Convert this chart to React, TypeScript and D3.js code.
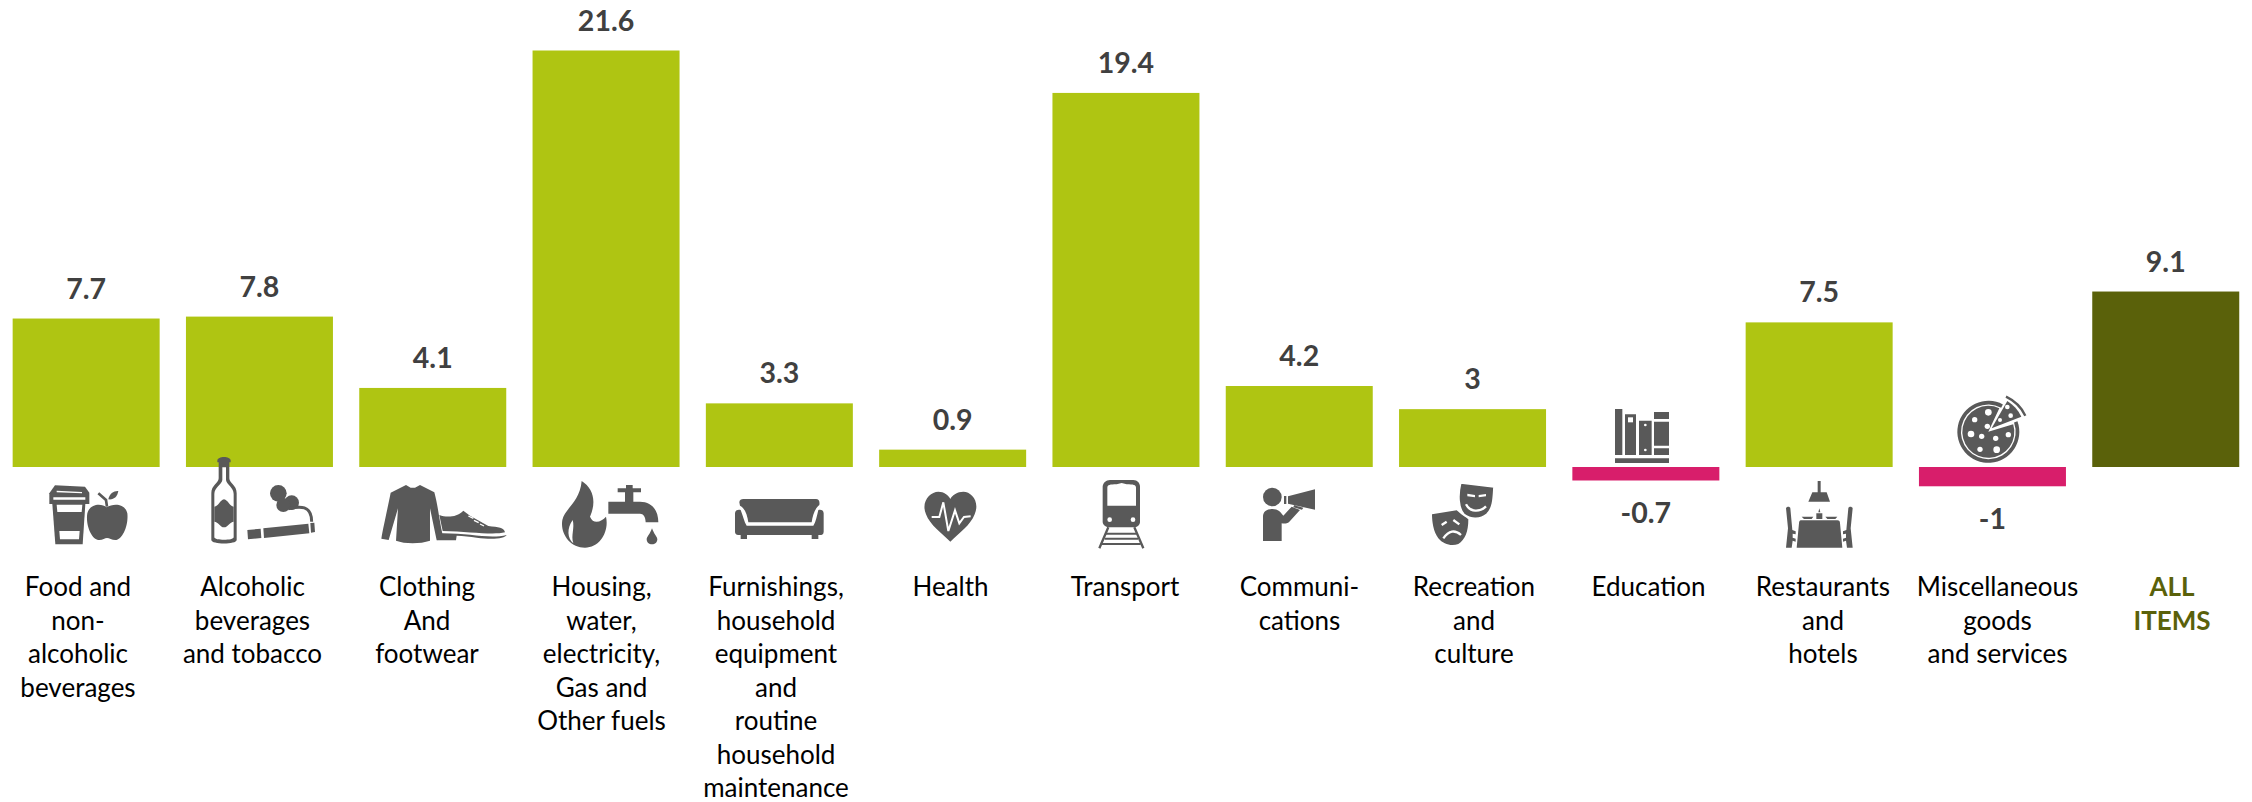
import React from "react";
import * as d3 from "d3";

// Annual inflation by expenditure group
const categoryLines: string[][] = [
  ["Food and", "non-", "alcoholic", "beverages"],
  ["Alcoholic", "beverages", "and tobacco"],
  ["Clothing", "And", "footwear"],
  ["Housing,", "water,", "electricity,", "Gas and", "Other fuels"],
  ["Furnishings,", "household", "equipment", "and", "routine", "household", "maintenance"],
  ["Health"],
  ["Transport"],
  ["Communi-", "cations"],
  ["Recreation", "and", "culture"],
  ["Education"],
  ["Restaurants", "and", "hotels"],
  ["Miscellaneous", "goods", "and services"],
  ["ALL", "ITEMS"],
];
const values: number[] = [7.7, 7.8, 4.1, 21.6, 3.3, 0.9, 19.4, 4.2, 3, -0.7, 7.5, -1, 9.1];

const WIDTH = 2252;
const HEIGHT = 802;
const LIME = "#AFC512";
const OLIVE = "#5A610A";
const PINK = "#D81E6B";
const ICON = "#595959";
const VALUE_TEXT = "#404040";
const FONT = "Lato, 'Noto Sans', sans-serif";

const indices = values.map((_, i) => i);
const x = d3.scaleBand<number>().domain(indices).range([-0.5, 2252.4]).paddingInner(0.1518).paddingOuter(0.0759);
const labelX = d3.scalePoint<number>().domain(indices).range([78, 2172]);
const y = d3.scaleLinear().domain([0, 21.6]).range([467, 50.5]);

const barColor = (i: number) => (i === values.length - 1 ? OLIVE : values[i] < 0 ? PINK : LIME);

const disc = d3.arc<any>();
const deg = (a: number) => (a * Math.PI) / 180;
const pizzaBody = disc({ innerRadius: 0, outerRadius: 78, startAngle: deg(73), endAngle: deg(385) }) as string;
const pizzaRim = disc({ innerRadius: 82, outerRadius: 93, startAngle: deg(70), endAngle: deg(388) }) as string;

const W = "#fff";

// Pictograms are authored on a 3x grid and placed by their own origin.
const Glyph = ({ ox, oy, children }: { ox: number; oy: number; children: React.ReactNode }) => (
  <g transform={`translate(${ox},${oy}) scale(${1 / 3})`} fill={ICON}>
    {children}
  </g>
);

const Chair = () => (
  <path d="M558 340C560 334 570 334 571 340L577 405L587 409V418L578 416V428L587 431V440L578 437L575 458H558L564 400Z" />
);

const Icons = () => (
  <g>
    <Glyph ox={40} oy={450}>
      {/* cup and apple */}
      <path d="M28 162V130L45 106L135 110L148 128V162Z" />
      <path d="M37 162L46 283H128L136 162Z" />
      <path d="M40 142H136V149H40ZM50 122L126 126V130L50 127Z" fill={W} />
      <path d="M50 164H127L125 186H52ZM58 243H119L117 268H60Z" fill={W} />
      <path d="M200 172C185 160 150 160 142 190C136 225 155 270 178 270C188 270 195 264 201 264C208 264 215 270 226 270C248 270 266 225 262 190C255 160 220 160 200 172Z" />
      <path d="M175 130L198 150L201 170" fill="none" stroke={ICON} strokeWidth={8} />
      <path d="M205 148C208 130 222 122 235 123C232 140 222 150 205 148Z" />
      {/* bottle and cigarette */}
      <path d="M532 32C532 17 572 17 572 32V37H532Z" />
      <path d="M536 34H568V85C568 100 590 105 590 130V270C590 284 514 284 514 270V130C514 105 536 100 536 85Z" />
      <path d="M547 52H558V90C560 105 581 112 581 132V262C581 272 523 272 523 262V132C523 112 545 105 547 90Z" fill={W} />
      <path d="M523 170C535 170 540 150 552 148C564 150 570 170 581 170V215C570 215 564 232 552 232C540 232 535 215 523 215Z" />
      <path d="M622 240L662 236L664 264L624 268ZM670 235L805 221L808 250L672 264ZM811 219L823 218L825 246L813 248Z" />
      <circle cx={715} cy={130} r={25} />
      <circle cx={755} cy={158} r={22} />
      <circle cx={730} cy={165} r={21} />
      <path d="M745 176C780 168 815 165 815 215" fill="none" stroke={ICON} strokeWidth={9} />
      {/* jumper and shoe */}
      <path d="M1098 105L1112 113H1125L1140 105L1183 127C1195 170 1200 230 1212 268L1190 271L1170 175V272C1140 282 1095 282 1068 272L1074 175L1046 270L1024 266C1030 230 1045 165 1052 128Z" />
      <path d="M1198 195C1220 203 1250 202 1270 182L1290 197L1345 228C1375 232 1393 232 1395 247C1360 256 1290 245 1208 243Z" />
      <path d="M1210 250C1290 250 1350 268 1400 255C1395 265 1360 270 1310 263C1290 260 1270 257 1250 257L1248 271H1192L1188 250Z" />
      <path d="M1285 198L1300 205M1302 211L1316 218M1320 222L1332 228" stroke={W} strokeWidth={4} fill="none" />
    </Glyph>
    <Glyph ox={550} oy={475}>
      {/* flame and tap */}
      <path d="M95 18C130 40 140 80 120 125C130 150 155 140 168 125C178 170 150 218 105 218C60 218 30 175 37 135C45 100 90 80 95 18Z" />
      <path d="M68 135C50 160 52 190 70 205C62 180 75 160 68 135Z" fill={W} />
      <path d="M175 80H225V52H203V40H228V30H248V40H273V52H250V80H270C305 80 325 105 325 142H287C287 125 280 116 270 116H175Z" />
      <path d="M306 160C312 178 322 185 322 193C322 202 315 208 306 208C297 208 290 202 290 193C290 185 300 178 306 160Z" />
      {/* sofa */}
      <path d="M568 82C568 74 574 72 580 72H798C806 72 810 78 808 90C795 100 788 120 785 142H595C592 120 585 100 570 92Z" />
      <path d="M555 115C555 105 565 103 572 105C580 125 582 140 590 152H790C798 140 800 125 805 105C812 103 821 105 821 115V170C821 178 815 180 810 180H805V192H785V180H591V192H572V180H565C558 180 555 175 555 170Z" />
      {/* heart */}
      <path d="M1201 200C1175 175 1140 150 1128 118C1112 80 1140 50 1165 50C1182 50 1195 60 1201 72C1207 60 1222 50 1240 50C1265 50 1290 80 1274 118C1262 150 1227 175 1201 200Z" />
      <path d="M1145 126H1168L1180 82L1195 168L1215 106L1228 145L1242 126L1262 124" fill="none" stroke={W} strokeWidth={6} />
    </Glyph>
    <Glyph ox={1090} oy={475}>
      {/* train */}
      <path d="M60 15H130C142 15 150 25 150 35V140C150 150 142 157 130 157H60C48 157 38 150 38 140V35C38 25 48 15 60 15Z" />
      <path d="M52 38C52 30 60 28 80 28L95 24L110 28C130 28 138 30 138 38V92H52Z" fill={W} />
      <circle cx={59} cy={134} r={7} fill={W} />
      <circle cx={129} cy={134} r={7} fill={W} />
      <path d="M55 157L28 220M133 157L160 220" stroke={ICON} strokeWidth={7} fill="none" />
      <path d="M48 173H140V179H48ZM44 188H144V194H44ZM36 204H152V210H36Z" />
      {/* megaphone */}
      <circle cx={547} cy={66} r={28} />
      <path d="M519 198V125C519 110 530 102 547 102C565 102 572 112 580 122L605 95L630 105L600 138C595 145 585 147 575 145V198Z" />
      <path d="M594 64L675 43V104L594 86ZM582 63H589V87H582ZM612 91L640 98L636 104L610 97Z" />
      {/* theatre masks */}
      <path d="M1026 118L1100 106C1115 120 1125 125 1135 133C1135 170 1125 195 1105 207C1085 215 1060 208 1045 190C1030 170 1026 140 1026 118Z" />
      <path d="M1055 150L1070 140M1090 135L1108 148M1060 190Q1085 155 1113 180" fill="none" stroke={W} strokeWidth={7} />
      <path d="M1112 24L1212 36C1210 70 1210 100 1190 118C1170 135 1140 132 1122 118C1105 100 1103 60 1112 24Z" stroke={W} strokeWidth={5} />
      <path d="M1132 56L1155 60V67L1132 64ZM1166 60L1188 57V64L1166 67Z" fill={W} />
      <path d="M1128 88C1140 112 1170 112 1188 94" fill="none" stroke={W} strokeWidth={7} />
    </Glyph>
    <Glyph ox={1600} oy={395}>
      {/* books */}
      <path d="M45 42H67V180H45ZM75 58H108V180H75ZM117 77H155V180H117ZM162 51H207V72H162ZM162 80H207V152H162ZM162 160H207V180H162ZM45 190H207V204H45Z" />
      <rect x={84} y={67} width={15} height={15} fill={W} />
      <circle cx={136} cy={90} r={4} fill={W} />
      <circle cx={136} cy={165} r={4} fill={W} />
      {/* restaurant table */}
      <path d="M653 258H662V292H653ZM637 292H680L690 320H625Z" />
      <path d="M602 376H712C718 376 720 380 720 385L727 458H590L597 385C597 380 600 376 602 376Z" />
      <path d="M649 355H667V372H649ZM658 340L661 352H655ZM605 365H640L635 372H612ZM676 365H712L706 372H682Z" />
      <Chair />
      <g transform="translate(1316,0) scale(-1,1)">
        <Chair />
      </g>
      {/* pizza */}
      <g transform="translate(1165,110.5)">
        <path d={pizzaBody} />
        <path d={pizzaRim} />
      </g>
      <path d="M1175 100L1222 18C1240 30 1255 45 1264 65Z" />
      <path d="M1218 5Q1258 24 1276 62" fill="none" stroke={ICON} strokeWidth={7} />
      {[[1165, 52, 10], [1124, 74, 8], [1162, 94, 8], [1113, 117, 10], [1145, 124, 8], [1187, 130, 8], [1225, 119, 8], [1140, 163, 8], [1190, 164, 10], [1222, 36, 7], [1232, 62, 7], [1200, 75, 6]].map(([cx, cy, r]) => (
        <circle key={`${cx}-${cy}`} cx={cx} cy={cy} r={r} fill={W} />
      ))}
    </Glyph>
  </g>
);

export default function App() {
  return (
    <svg
      width={WIDTH}
      height={HEIGHT}
      viewBox={`0 0 ${WIDTH} ${HEIGHT}`}
      style={{ position: "absolute", left: 0, top: 0, background: "#fff" }}
      fontFamily={FONT}
    >
      {values.map((v, i) => (
        <rect
          key={i}
          x={x(i)}
          y={Math.min(y(v), y(0))}
          width={x.bandwidth()}
          height={Math.abs(y(v) - y(0))}
          fill={barColor(i)}
        />
      ))}
      <Icons />
      {values.map((v, i) => (
        <text
          key={i}
          x={x(i)! + x.bandwidth() / 2}
          y={v >= 0 ? y(v) - 20 : y(v) + 43}
          textAnchor="middle"
          fontSize={28.5}
          fontWeight={700}
          fill={VALUE_TEXT}
        >
          {v}
        </text>
      ))}
      {categoryLines.map((lines, i) => (
        <text
          key={i}
          textAnchor="middle"
          fontSize={26}
          fontWeight={i === values.length - 1 ? 700 : 400}
          fill={i === values.length - 1 ? OLIVE : "#000"}
        >
          {lines.map((line, j) => (
            <tspan key={j} x={labelX(i)} y={596 + j * 33.5}>
              {line}
            </tspan>
          ))}
        </text>
      ))}
    </svg>
  );
}
